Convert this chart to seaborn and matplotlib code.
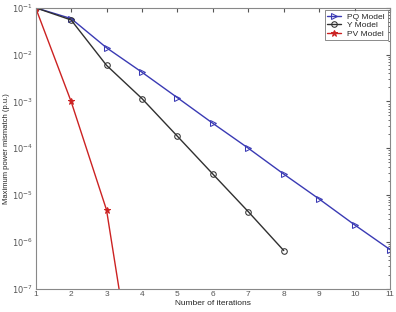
import numpy as np
import pandas as pd
import matplotlib
matplotlib.use('Agg')
import matplotlib.pyplot as plt
from matplotlib.ticker import NullFormatter, FixedLocator
import seaborn as sns

# values
iters_pq = [1, 2, 3, 4, 5, 6, 7, 8, 9, 10, 11]
mismatch_pq = [1e-1, 5.9e-2, 1.4e-2, 4.2e-3, 1.2e-3, 3.4e-4, 1.0e-4, 2.8e-5, 8.2e-6, 2.3e-6, 6.8e-7]
iters_y = [1, 2, 3, 4, 5, 6, 7, 8]
mismatch_y = [1e-1, 5.5e-2, 5.9e-3, 1.15e-3, 1.8e-4, 2.8e-5, 4.4e-6, 6.5e-7]
iters_pv = [1, 2, 3, 4]
mismatch_pv = [1e-1, 1.0e-3, 4.8e-6, 8e-11]

models = ['PQ Model', 'Y Model', 'PV Model']
colors = ['#3a3ab4', '#303030', '#cc2222']
markers = ['>', 'o', '*']
ytick_exp = [-7, -6, -5, -4, -3, -2, -1]

df = pd.concat([
    pd.DataFrame({'iter': iters_pq, 'mismatch': mismatch_pq, 'model': 'PQ Model'}),
    pd.DataFrame({'iter': iters_y, 'mismatch': mismatch_y, 'model': 'Y Model'}),
    pd.DataFrame({'iter': iters_pv, 'mismatch': mismatch_pv, 'model': 'PV Model'}),
])

sns.set_style('white')
plt.rcParams['font.family'] = ['Liberation Sans', 'DejaVu Sans']

fig, ax = plt.subplots(figsize=(3.96, 3.12), dpi=100)
for m, c, mk in zip(models, colors, markers):
    sub = df[df['model'] == m]
    sns.lineplot(data=sub, x='iter', y='mismatch', ax=ax, color=c, marker=mk,
                 markerfacecolor='none' if mk != '*' else c, markeredgecolor=c,
                 markersize=4 if mk != '*' else 5, linewidth=1, label=m)

ax.set_yscale('log')
ax.set_xlim(1, 11)
ax.set_ylim(1e-7, 1e-1)
ax.set_xticks(range(1, 12))
ax.set_yticks([10.0 ** e for e in ytick_exp])
ax.set_yticklabels([f'$10^{{{e}}}$' for e in ytick_exp])
minor = [k * 10.0 ** e for e in ytick_exp[:-1] for k in range(2, 10)]
ax.yaxis.set_minor_locator(FixedLocator(minor))
ax.yaxis.set_minor_formatter(NullFormatter())
ax.tick_params(which='both', direction='in', top=True, right=True, labelsize=6, colors='#555555', pad=2)
ax.tick_params(which='major', length=3)
ax.tick_params(which='minor', length=1.5)
for s in ax.spines.values():
    s.set_color('#888888')
    s.set_linewidth(0.8)
ax.set_xlabel('Number of iterations', fontsize=6, labelpad=1)
ax.set_ylabel('Maximum power mismatch (p.u.)', fontsize=5.5, labelpad=1)
leg = ax.legend(loc='upper right', fontsize=6, frameon=True, fancybox=False,
                borderpad=0.3, labelspacing=0.1, handlelength=1.6, borderaxespad=0.3)
leg.get_frame().set_edgecolor('#555555')
leg.get_frame().set_linewidth(0.6)

fig.subplots_adjust(left=0.09, right=0.985, top=0.975, bottom=0.075)
fig.savefig('out.png', dpi=100)
